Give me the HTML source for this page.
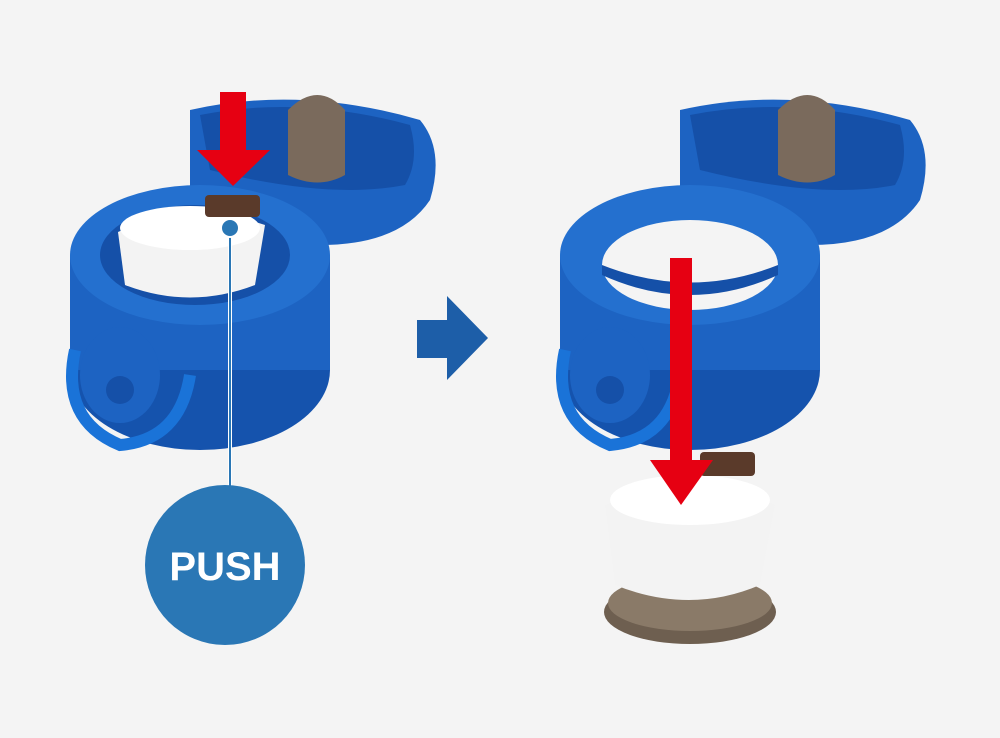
<!DOCTYPE html>
<html><head><meta charset="utf-8"><style>
html,body{margin:0;padding:0;background:#f4f4f4;}
svg{display:block}
</style></head><body>
<svg width="1000" height="738" viewBox="0 0 1000 738" xmlns="http://www.w3.org/2000/svg">
<rect width="1000" height="738" fill="#f4f4f4"/>

<!-- LEFT CAP -->
<g>
  <!-- lid -->
  <path d="M190 110 Q300 85 420 120 Q445 150 430 200 Q400 245 320 245 Q260 240 190 200 Z" fill="#1d63c2"/>
  <path d="M200 115 Q300 95 410 125 Q420 160 405 185 Q330 200 210 170 Z" fill="#1550a8"/>
  <path d="M288 110 Q318 80 345 110 L345 175 Q318 190 288 175 Z" fill="#7a6a5c"/>
  <!-- body -->
  <ellipse cx="200" cy="370" rx="130" ry="80" fill="#1553ad"/>
  <rect x="70" y="255" width="260" height="115" fill="#1d63c2"/>
  <ellipse cx="200" cy="255" rx="130" ry="70" fill="#2470cf"/>
  <ellipse cx="195" cy="255" rx="95" ry="50" fill="#1550a8"/>
  <!-- white insert -->
  <path d="M118 232 Q190 200 265 225 L255 285 Q190 310 125 285 Z" fill="#f3f3f3"/>
  <ellipse cx="190" cy="228" rx="70" ry="22" fill="#ffffff"/>
  <rect x="205" y="195" width="55" height="22" rx="4" fill="#5a3a2a"/>
  <!-- handle -->
  <ellipse cx="120" cy="375" rx="40" ry="48" fill="#1d63c2"/>
  <path d="M75 350 Q60 420 120 445 Q180 440 190 375" fill="none" stroke="#1a73d8" stroke-width="12"/>
  <circle cx="120" cy="390" r="14" fill="#1550a8"/>
  <!-- red arrow -->
  <rect x="220" y="92" width="26" height="60" fill="#e60012"/>
  <polygon points="197,150 270,150 233,186" fill="#e60012"/>
  <!-- push line -->
  <line x1="230" y1="228" x2="230" y2="495" stroke="#ffffff" stroke-width="4"/>
  <line x1="230" y1="228" x2="230" y2="495" stroke="#2a77b5" stroke-width="2"/>
  <circle cx="230" cy="228" r="9" fill="#2a77b5" stroke="#fff" stroke-width="2"/>
  <circle cx="225" cy="565" r="80" fill="#2a77b5"/>
  <text x="225" y="580" text-anchor="middle" font-family="Liberation Sans, sans-serif" font-weight="bold" font-size="40" fill="#fff">PUSH</text>
</g>

<!-- middle arrow -->
<polygon points="417,320 447,320 447,296 488,338 447,380 447,358 417,358" fill="#1d5ea8"/>

<!-- RIGHT CAP -->
<g>
  <path d="M680 110 Q790 85 910 120 Q935 150 920 200 Q890 245 810 245 Q750 240 680 200 Z" fill="#1d63c2"/>
  <path d="M690 115 Q790 95 900 125 Q910 160 895 185 Q820 200 700 170 Z" fill="#1550a8"/>
  <path d="M778 110 Q808 80 835 110 L835 175 Q808 190 778 175 Z" fill="#7a6a5c"/>
  <ellipse cx="690" cy="370" rx="130" ry="80" fill="#1553ad"/>
  <rect x="560" y="255" width="260" height="115" fill="#1d63c2"/>
  <ellipse cx="690" cy="255" rx="130" ry="70" fill="#2470cf"/>
  <ellipse cx="690" cy="265" rx="88" ry="45" fill="#f4f4f4"/>
  <path d="M602 265 Q690 300 778 265 L778 275 Q690 315 602 275 Z" fill="#1550a8"/>
  <ellipse cx="610" cy="375" rx="40" ry="48" fill="#1d63c2"/>
  <path d="M565 350 Q550 420 610 445 Q670 440 680 375" fill="none" stroke="#1a73d8" stroke-width="12"/>
  <circle cx="610" cy="390" r="14" fill="#1550a8"/>
  <!-- bottom part -->
  <ellipse cx="690" cy="612" rx="86" ry="32" fill="#6e5f50"/>
  <ellipse cx="690" cy="603" rx="82" ry="28" fill="#8a7a68"/>
  <path d="M605 505 Q690 470 775 505 L760 585 Q690 615 615 585 Z" fill="#f3f3f3"/>
  <ellipse cx="690" cy="500" rx="80" ry="25" fill="#ffffff"/>
  <rect x="700" y="452" width="55" height="24" rx="4" fill="#5a3a2a"/>
  <!-- red arrow -->
  <rect x="670" y="258" width="22" height="205" fill="#e60012"/>
  <polygon points="650,460 713,460 681,505" fill="#e60012"/>
</g>
</svg>
</body></html>
